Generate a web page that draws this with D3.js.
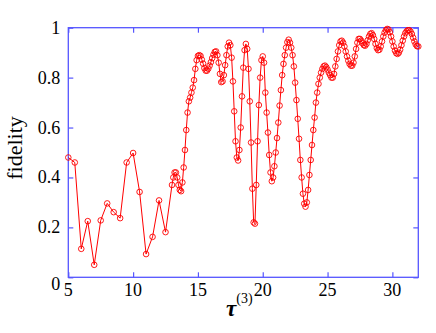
<!DOCTYPE html>
<html>
<head>
<meta charset="utf-8">
<script src="https://cdn.jsdelivr.net/npm/d3@7"></script>
<style>
  body { margin: 0; background: #fff; }
</style>
</head>
<body>
<div class="svg-container"></div>
<script>
// coarse part of the scan, tau step 0.5
var tauCoarse = [5, 5.5, 6, 6.5, 7, 7.5, 8, 8.5, 9, 9.5, 10, 10.5, 11, 11.5, 12, 12.5];
var fidCoarse = [0.48, 0.46, 0.114, 0.225, 0.05, 0.228, 0.296, 0.261, 0.237, 0.46, 0.498, 0.342, 0.093, 0.162, 0.308, 0.181];

// fine part of the scan, tau from 13 to 32 in steps of 0.1
var fidFine = [
  0.37, 0.40, 0.42, 0.42, 0.40, 0.37, 0.35, 0.345, 0.38, 0.44,          // 13.0 - 13.9
  0.51, 0.59, 0.66, 0.705, 0.72, 0.74, 0.76, 0.79, 0.835, 0.87,         // 14
  0.887, 0.89, 0.887, 0.872, 0.856, 0.838, 0.828, 0.828, 0.836, 0.848, // 15
  0.862, 0.878, 0.892, 0.903, 0.905, 0.89, 0.86, 0.815, 0.782, 0.785,  // 16
  0.81, 0.85, 0.89, 0.925, 0.94, 0.93, 0.88, 0.785, 0.665, 0.545,      // 17
  0.48, 0.468, 0.51, 0.60, 0.725, 0.84, 0.91, 0.935, 0.915, 0.835,     // 18
  0.705, 0.54, 0.355, 0.22, 0.215, 0.37, 0.545, 0.69, 0.80, 0.87,      // 19
  0.885, 0.86, 0.74, 0.66, 0.58, 0.49, 0.42, 0.385, 0.40, 0.445,       // 20
  0.50, 0.558, 0.62, 0.688, 0.75, 0.81, 0.855, 0.89, 0.92, 0.942,      // 21
  0.952, 0.94, 0.92, 0.89, 0.845, 0.78, 0.71, 0.635, 0.555, 0.47,      // 22
  0.40, 0.335, 0.295, 0.283, 0.30, 0.35, 0.41, 0.47, 0.53, 0.59,       // 23
  0.64, 0.70, 0.74, 0.775, 0.80, 0.82, 0.835, 0.845, 0.848, 0.842,     // 24
  0.832, 0.82, 0.81, 0.80, 0.80, 0.815, 0.845, 0.875, 0.905, 0.93,     // 25
  0.945, 0.948, 0.94, 0.925, 0.905, 0.885, 0.868, 0.855, 0.848, 0.848, // 26
  0.86, 0.885, 0.915, 0.94, 0.955, 0.955, 0.948, 0.938, 0.93, 0.928,   // 27
  0.935, 0.95, 0.965, 0.975, 0.978, 0.97, 0.955, 0.935, 0.918, 0.91,   // 28
  0.912, 0.925, 0.945, 0.965, 0.98, 0.99, 0.995, 0.993, 0.982, 0.965,  // 29
  0.945, 0.925, 0.908, 0.898, 0.895, 0.90, 0.912, 0.93, 0.948, 0.965,  // 30
  0.978, 0.986, 0.99, 0.99, 0.985, 0.975, 0.96, 0.945, 0.933, 0.926,   // 31
  0.925                                                                 // 32.0
];
var tauFine = d3.range(fidFine.length).map(function(i) { return +(13 + i * 0.1).toFixed(1); });

var xTicks = [5, 10, 15, 20, 25, 30];
var yTicks = [0, 0.2, 0.4, 0.6, 0.8, 1];

var w = 436, h = 333;
var m_left = 68.3, m_right = 418.3, m_top = 27.7, m_bottom = 277.3;
var frameColor = "#5555ff", red = "#ff0000";
var serif = "'Liberation Serif', 'Times New Roman', 'DejaVu Serif', serif";

var points = tauCoarse.map(function(t, i) { return {x: t, y: fidCoarse[i]}; })
    .concat(tauFine.map(function(t, i) { return {x: t, y: fidFine[i]}; }));

var svg = d3.select(".svg-container").append("svg")
    .attr("width", w)
    .attr("height", h);

var x = d3.scaleLinear().domain([5, 32]).range([m_left, m_right]);
var y = d3.scaleLinear().domain([0, 1]).range([m_bottom, m_top]);

// inward ticks on all four sides, labels only bottom/left
var tickLen = 5;
svg.append("g")
    .attr("transform", "translate(0," + m_bottom + ")")
    .call(d3.axisTop(x).tickValues(xTicks).tickSize(tickLen).tickFormat(""))
    .call(function(g) { g.select(".domain").remove(); });
svg.append("g")
    .attr("transform", "translate(0," + m_top + ")")
    .call(d3.axisBottom(x).tickValues(xTicks).tickSize(tickLen).tickFormat(""))
    .call(function(g) { g.select(".domain").remove(); });
svg.append("g")
    .attr("transform", "translate(" + m_left + ",0)")
    .call(d3.axisRight(y).tickValues(yTicks).tickSize(tickLen).tickFormat(""))
    .call(function(g) { g.select(".domain").remove(); });
svg.append("g")
    .attr("transform", "translate(" + m_right + ",0)")
    .call(d3.axisLeft(y).tickValues(yTicks).tickSize(tickLen).tickFormat(""))
    .call(function(g) { g.select(".domain").remove(); });
svg.selectAll(".tick line").attr("stroke", frameColor).attr("stroke-width", 1.2);
svg.selectAll(".tick text").remove();

svg.append("rect")
    .attr("x", m_left).attr("y", m_top)
    .attr("width", m_right - m_left).attr("height", m_bottom - m_top)
    .attr("fill", "none")
    .attr("stroke", frameColor)
    .attr("stroke-width", 1.3);

// tick labels
svg.append("g").selectAll("text")
    .data(xTicks)
    .enter().append("text")
    .attr("x", function(d) { return x(d); })
    .attr("y", 296)
    .attr("text-anchor", "middle")
    .attr("font-family", serif)
    .attr("font-size", 18)
    .text(function(d) { return d; });

svg.append("g").selectAll("text")
    .data(yTicks)
    .enter().append("text")
    .attr("x", m_left - 8)
    .attr("y", function(d) { return y(d) + (d === 0 ? 13 : 6); })
    .attr("text-anchor", "end")
    .attr("font-family", serif)
    .attr("font-size", 18)
    .text(function(d) { return d; });

// axis titles
svg.append("text")
    .attr("transform", "translate(22,148) rotate(-90)")
    .attr("text-anchor", "middle")
    .attr("font-family", serif)
    .attr("font-size", 22)
    .text("fidelity");

var xt = svg.append("text")
    .attr("x", 226).attr("y", 316)
    .attr("font-family", serif)
    .attr("font-size", 23);
xt.append("tspan").attr("font-weight", "bold").attr("font-style", "italic").text("τ");
xt.append("tspan").attr("font-size", 14).attr("dy", -13).text("(3)");

// the curve
var line = d3.line()
    .x(function(d) { return x(d.x); })
    .y(function(d) { return y(d.y); });

svg.append("path")
    .datum(points)
    .attr("d", line)
    .attr("fill", "none")
    .attr("stroke", red)
    .attr("stroke-width", 1);

svg.append("g").selectAll("circle")
    .data(points)
    .enter().append("circle")
    .attr("cx", function(d) { return x(d.x); })
    .attr("cy", function(d) { return y(d.y); })
    .attr("r", 2.8)
    .attr("fill", "none")
    .attr("stroke", red)
    .attr("stroke-width", 0.9);
</script>
</body>
</html>
